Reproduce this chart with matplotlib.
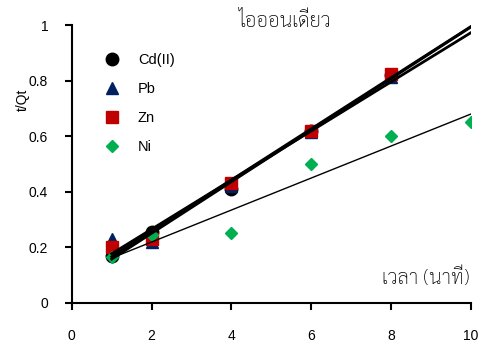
import matplotlib
matplotlib.use("Agg")
import numpy as np
import matplotlib.pyplot as plt

plt.rcParams["font.family"] = ["Liberation Sans", "DejaVu Sans"]
THAI = ["Sarabun", "Noto Sans Thai", "Liberation Sans"]

# data
t_cd = [1, 2, 4, 6, 8]
cd = [0.17, 0.255, 0.41, 0.62, 0.82]
t_pb = [1, 2, 4, 6, 8]
pb = [0.23, 0.22, 0.42, 0.615, 0.815]
t_zn = [1, 2, 4, 6, 8]
zn = [0.20, 0.23, 0.43, 0.62, 0.825]
t_ni = [1, 2, 4, 6, 8, 10]
ni = [0.165, 0.245, 0.25, 0.50, 0.60, 0.65]

fig = plt.figure(figsize=(4.82, 3.49), dpi=100)
ax = fig.add_axes([0.149, 0.132, 0.828, 0.796])

series = [
    ("Cd(II)", t_cd, cd, "o", "black", 9.0, 2.0),
    ("Pb", t_pb, pb, "^", "#002060", 9.0, 2.0),
    ("Zn", t_zn, zn, "s", "#C00000", 8.0, 2.0),
    ("Ni", t_ni, ni, "D", "#00B050", 6.5, 1.0),
]

for name, x, y, m, c, ms, lw in series:
    ax.plot(x, y, ls="none", marker=m, color=c, ms=ms, mec=c, label=name, zorder=3)

# linear trend lines
xx = np.array([1, 10])
for name, x, y, m, c, ms, lw in series:
    k, b = np.polyfit(x, y, 1)
    ax.plot(xx, k * xx + b, color="black", lw=lw, zorder=4)

ax.set_xlim(0, 10)
ax.set_ylim(0, 1)
ax.set_xticks([0, 2, 4, 6, 8, 10])
ax.set_yticks([0, 0.2, 0.4, 0.6, 0.8, 1])
ax.set_yticklabels(["0", "0.2", "0.4", "0.6", "0.8", "1"])
ax.tick_params(direction="out", length=5, width=1.5, labelsize=10)
ax.tick_params(axis="y", pad=12)
ax.tick_params(axis="x", pad=13.5)
for s in ("top", "right"):
    ax.spines[s].set_visible(False)
for s in ("left", "bottom"):
    ax.spines[s].set_linewidth(1.5)

ax.text(0.534, 1.015, "ไอออนเดี่ยว", transform=ax.transAxes, ha="center",
        va="center", fontsize=14.5, fontweight="light", family=THAI)
ax.text(0.997, 0.09, "เวลา (นาที)", transform=ax.transAxes, ha="right",
        va="center", fontsize=14.5, fontweight="light", family=THAI)
fig.text(0.047, 0.715, "t/Qt", rotation=90, ha="center", va="center", fontsize=10)

ax.legend(loc="upper left", bbox_to_anchor=(0.065, 0.92), frameon=False,
          fontsize=10.5, labelspacing=1.03, handletextpad=1.15, borderaxespad=0,
          handlelength=1.2)

fig.savefig("out.png", dpi=100)
